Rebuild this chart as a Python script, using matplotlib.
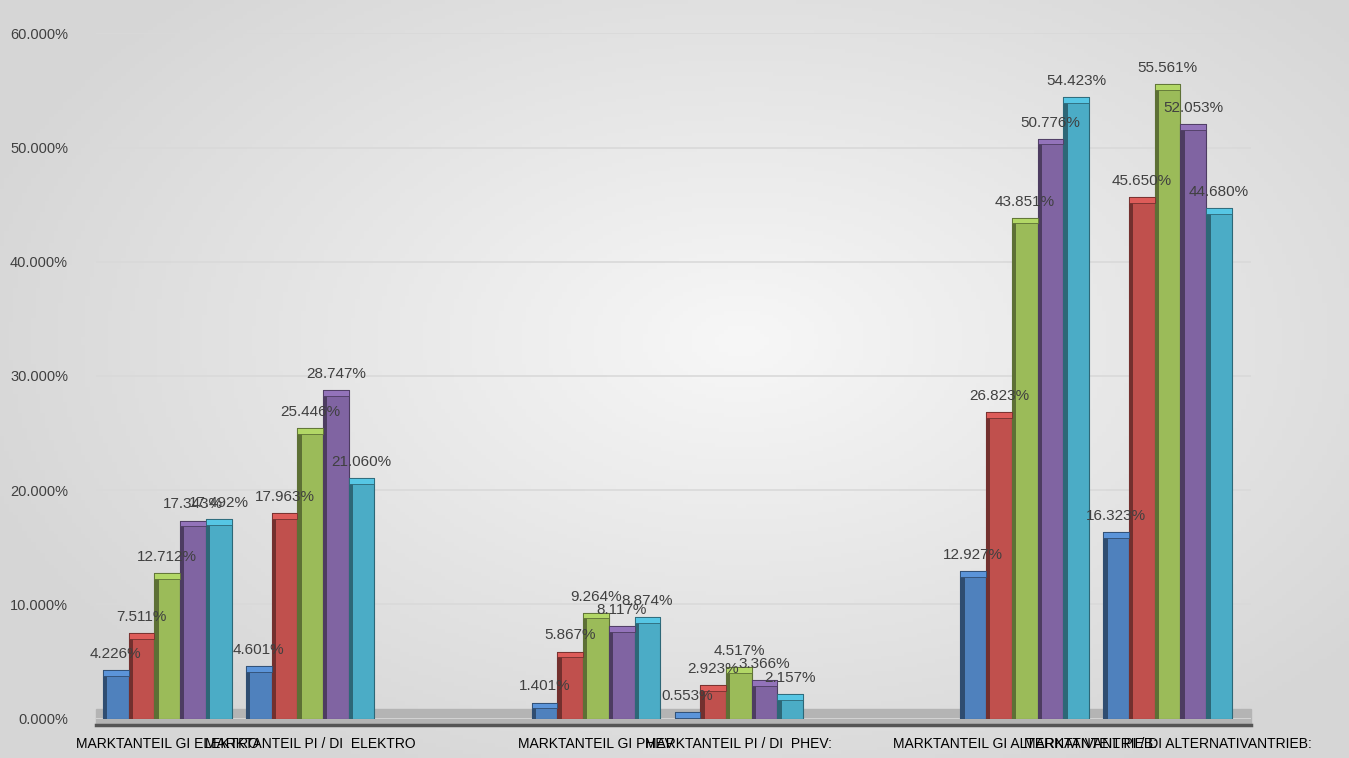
import matplotlib
matplotlib.use("Agg")
import matplotlib.pyplot as plt
import matplotlib.colors as mcolors
import numpy as np

plt.rcParams['font.family'] = ['Liberation Sans Narrow', 'Liberation Sans', 'DejaVu Sans']

categories = [
    "MARKTANTEIL GI ELEKTRO",
    "MARKTANTEIL PI / DI  ELEKTRO",
    "",
    "MARKTANTEIL GI PHEV",
    "MARKTANTEIL PI / DI  PHEV:",
    "",
    "MARKTANTEIL GI ALTERNATIVANTRIEB:",
    "MARKTANTEIL PI / DI ALTERNATIVANTRIEB:",
]

# values in percent, None for the empty categories
series_1 = [4.226, 4.601, None, 1.401, 0.553, None, 12.927, 16.323]
series_2 = [7.511, 17.963, None, 5.867, 2.923, None, 26.823, 45.650]
series_3 = [12.712, 25.446, None, 9.264, 4.517, None, 43.851, 55.561]
series_4 = [17.343, 28.747, None, 8.117, 3.366, None, 50.776, 52.053]
series_5 = [17.492, 21.060, None, 8.874, 2.157, None, 54.423, 44.680]

yticks = [0, 10, 20, 30, 40, 50, 60]
ytick_labels = ["0.000%", "10.000%", "20.000%", "30.000%", "40.000%", "50.000%", "60.000%"]

series = [series_1, series_2, series_3, series_4, series_5]
colors = ['#4f81bd', '#c0504d', '#9bbb59', '#8064a2', '#4bacc6']

fig = plt.figure(figsize=(13.49, 7.58), dpi=100)

# soft grey background, lighter in the middle
bg = fig.add_axes([0, 0, 1, 1], zorder=-10)
yy, xx = np.mgrid[-1:1:200j, -1:1:300j]
r = np.sqrt(((xx - 0.1) / 1.2) ** 2 + ((yy + 0.1) / 1.3) ** 2)
bg.imshow(np.clip(r, 0, 1), cmap=mcolors.LinearSegmentedColormap.from_list('bg', ['#f7f7f7', '#d6d6d6']),
          aspect='auto', extent=[0, 1, 0, 1], vmin=0, vmax=1)
bg.axis('off')

ax = fig.add_axes([0.071, 0.052, 0.856, 0.904])
ax.patch.set_alpha(0)

x = np.arange(len(categories))
width = 0.18
offsets = (np.arange(len(series)) - 2) * width

for s, (vals, color) in enumerate(zip(series, colors)):
    dark = tuple(c * 0.6 for c in mcolors.to_rgb(color))
    light = tuple(min(1, c * 1.15) for c in mcolors.to_rgb(color))
    for i, v in enumerate(vals):
        if v is None:
            continue
        xc = x[i] + offsets[s]
        ax.bar(xc, v, width=width, color=color, edgecolor=dark, linewidth=0.8, zorder=3)
        # darker side face to mimic the 3D look
        ax.bar(xc - width / 2 + 0.015, v, width=0.03, color=dark, linewidth=0, zorder=3.5)
        # top cap
        ax.bar(xc, 0.5, bottom=v - 0.5, width=width, color=light, edgecolor=dark, linewidth=0.6, zorder=3.6)
        ax.text(xc, v + 0.8, f"{v:.3f}%", ha='center', va='bottom', fontsize=11, color='#404040', zorder=5)

ax.set_xlim(-0.5, len(categories) - 0.42)
ax.set_ylim(0, 60)
ax.set_yticks(yticks)
ax.set_yticklabels(ytick_labels, fontsize=10.5, color='#404040')
ax.set_xticks(x)
ax.set_xticklabels(categories, fontsize=10.5, color='#404040')
ax.tick_params(axis='both', length=0)
ax.tick_params(axis='y', pad=20)
ax.tick_params(axis='x', pad=8)

ax.grid(axis='y', color='#d9d9d9', linewidth=1.2, zorder=0)
ax.axhspan(-0.6, 0.8, color='#b4b4b4', zorder=1, clip_on=False)
for side in ['top', 'right', 'left']:
    ax.spines[side].set_visible(False)
ax.spines['bottom'].set_color('#555555')
ax.spines['bottom'].set_linewidth(2.5)
ax.spines['bottom'].set_position(('data', -0.6))

fig.savefig('out.png', dpi=100)
